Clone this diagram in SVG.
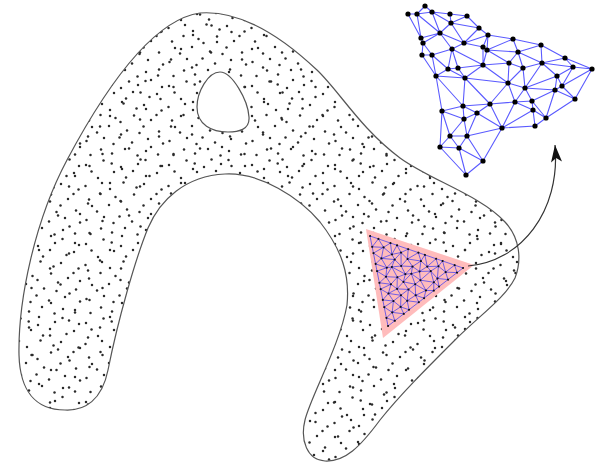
<svg xmlns="http://www.w3.org/2000/svg" width="601" height="467" viewBox="0 0 601 467">
<style>
.outline{fill:none;stroke:#555;stroke-width:1.2}
.pd{fill:#2a2a2a}
.zm{fill:none;stroke:#5a5aff;stroke-width:1.1}
.zn{fill:#000}
.tm{fill:none;stroke:#3636f5;stroke-width:.7;vector-effect:non-scaling-stroke}
.tn{fill:none;stroke:#111;stroke-width:2;stroke-linecap:round;vector-effect:non-scaling-stroke}
.arrow{fill:none;stroke:#333;stroke-width:1.2}
</style>
<defs>
<pattern id="pA" patternUnits="userSpaceOnUse" width="83" height="79">
<g class="pd">
<circle cx="3" cy="7" r="1.25"/><circle cx="20.5" cy="2.5" r="1.25"/><circle cx="28.7" cy="5.5" r="1.25"/><circle cx="38" cy="9" r="1.25"/><circle cx="55" cy="6" r="1.25"/><circle cx="62.5" cy="2" r="1.25"/><circle cx="79" cy="8" r="1.25"/>
<circle cx="8.5" cy="13.5" r="1.25"/><circle cx="15" cy="20" r="1.25"/><circle cx="31" cy="14" r="1.25"/><circle cx="43" cy="19.5" r="1.25"/><circle cx="50" cy="13" r="1.25"/><circle cx="66.5" cy="18" r="1.25"/><circle cx="74" cy="15" r="1.25"/>
<circle cx="2.5" cy="28" r="1.25"/><circle cx="19" cy="25" r="1.25"/><circle cx="27" cy="31" r="1.25"/><circle cx="40.5" cy="24.5" r="1.25"/><circle cx="53.5" cy="29.5" r="1.25"/><circle cx="61" cy="26" r="1.25"/><circle cx="78.5" cy="31.5" r="1.25"/>
<circle cx="6" cy="41.5" r="1.25"/><circle cx="17.5" cy="36" r="1.25"/><circle cx="32.5" cy="39" r="1.25"/><circle cx="37.5" cy="43" r="1.25"/><circle cx="51" cy="36.5" r="1.25"/><circle cx="68" cy="41" r="1.25"/><circle cx="73.5" cy="36" r="1.25"/>
<circle cx="9" cy="48" r="1.25"/><circle cx="14" cy="53.5" r="1.25"/><circle cx="26" cy="47" r="1.25"/><circle cx="44" cy="51.5" r="1.25"/><circle cx="56.5" cy="54" r="1.25"/><circle cx="60.5" cy="47.5" r="1.25"/><circle cx="76" cy="52.5" r="1.25"/>
<circle cx="3.5" cy="62" r="1.25"/><circle cx="21" cy="59" r="1.25"/><circle cx="30.5" cy="65" r="1.25"/><circle cx="36.5" cy="58.5" r="1.25"/><circle cx="49" cy="63.5" r="1.25"/><circle cx="65" cy="60" r="1.25"/><circle cx="80" cy="64.5" r="1.25"/>
<circle cx="7.5" cy="76" r="1.25"/><circle cx="18" cy="70.5" r="1.25"/><circle cx="29" cy="74.5" r="1.25"/><circle cx="42" cy="70" r="1.25"/><circle cx="54.5" cy="76.5" r="1.25"/><circle cx="63" cy="72" r="1.25"/><circle cx="75" cy="75.5" r="1.25"/>
</g>
</pattern>
<pattern id="pB" patternUnits="userSpaceOnUse" x="13" y="29" width="71" height="67">
<g class="pd">
<circle cx="5.5" cy="3" r="1.25"/><circle cx="38" cy="6" r="1.25"/><circle cx="26" cy="20" r="1.25"/><circle cx="62" cy="13" r="1.25"/><circle cx="16" cy="30.5" r="1.25"/><circle cx="56" cy="23.5" r="1.25"/>
<circle cx="4" cy="40.5" r="1.25"/><circle cx="37" cy="38.5" r="1.25"/><circle cx="45" cy="52.5" r="1.25"/><circle cx="67" cy="51" r="1.25"/><circle cx="18.5" cy="58" r="1.25"/><circle cx="56.5" cy="63.5" r="1.25"/>
</g>
</pattern>
<path id="blobShape" d="M200 13C240 10 280 35 317 70C340 92 360 128 400 158C430 180 480 195 505 222C520 238 522 260 515 278C505 298 480 315 455 340C425 370 400 395 380 420C360 447 345 462 325 461C307 460 300 440 305 420C310 398 340 345 347 305C350 275 342 250 320 222C300 198 260 172 225 174C185 176 160 200 148 228C135 260 118 320 108 370C102 400 85 411 65 410C35 410 20 390 19 355C18 300 35 220 67 160C100 98 150 20 200 13Z M220 72C232 72 248 100 249 117C250 130 238 132 228 132C212 132 197 125 197 107C197 92 208 72 220 72Z"/>
<marker id="ah" viewBox="-18 -7 20 14" refX="0" refY="0" markerWidth="20" markerHeight="14" markerUnits="userSpaceOnUse" orient="auto">
<path d="M0 0L-17 -5.5L-13 0L-17 5.5Z" fill="#111"/>
</marker>
</defs>

<g id="domain">
<use href="#blobShape" fill="url(#pA)" fill-rule="evenodd"/>
<use href="#blobShape" fill="url(#pB)" fill-rule="evenodd"/>
<use href="#blobShape" class="outline"/>
</g>

<g id="patch">
<path d="M366 229L474 265L383 338Z" fill="#ffbcbc"/>
<g transform="matrix(9.3 3.2 1.8 9 370 236)">
<path class="tm" d="M0 0L.9 0L2.2 0L2.9 0L4.1 0L5.2 0L5.9 0L7.1 0L7.8 0L9.1 0L10 0M0 1.2L1.3 .8L2.1 1.3L3.2 .7L3.8 1.2L5.3 .9L5.9 1.3L7.2 .8L7.9 1.2L9.2 .8M0 1.9L.8 2.2L2.3 1.8L2.9 2.3L4.2 1.9L4.9 2.2L6.2 1.7L6.8 2.3L8 2M0 3.1L1.2 3.1L1.8 2.8L3.2 3.1L3.9 2.8L4.8 3.2L6.3 2.9L6.8 3.2M0 3.9L.9 4.2L2.2 3.8L2.8 4.1L4.1 3.9L5.2 4.2L6.1 3.9M0 5.2L1.3 4.9L1.9 5.2L3.2 4.8L3.9 5.2L4.8 5.2M0 5.9L.8 6.1L2.2 5.8L2.8 6.2L4.1 5.9M0 7.1L1.2 6.8L1.9 7.2L2.8 7.2M0 7.9L.8 8.2L2.1 7.9M0 9.1L.9 9.1
M0 0L0 10M.9 0L1.3 .8L.8 2.2L1.2 3.1L.9 4.2L1.3 4.9L.8 6.1L1.2 6.8L.8 8.2L.9 9.1M2.2 0L2.1 1.3L2.3 1.8L1.8 2.8L2.2 3.8L1.9 5.2L2.2 5.8L1.9 7.2L2.1 7.9M2.9 0L3.2 .7L2.9 2.3L3.2 3.1L2.8 4.1L3.2 4.8L2.8 6.2L2.8 7.2M4.1 0L3.8 1.2L4.2 1.9L3.9 2.8L4.1 3.9L3.9 5.2L4.1 5.9M5.2 0L5.3 .9L4.9 2.2L4.8 3.2L5.2 4.2L4.8 5.2M5.9 0L5.9 1.3L6.2 1.7L6.3 2.9L6.1 3.9M7.1 0L7.2 .8L6.8 2.3L6.8 3.2M7.8 0L7.9 1.2L8 2M9.1 0L9.2 .8
M.9 0L0 1.2M2.2 0L1.3 .8L0 1.9M2.9 0L2.1 1.3L.8 2.2L0 3.1M4.1 0L3.2 .7L2.3 1.8L1.2 3.1L0 3.9M5.2 0L3.8 1.2L2.9 2.3L1.8 2.8L.9 4.2L0 5.2M5.9 0L5.3 .9L4.2 1.9L3.2 3.1L2.2 3.8L1.3 4.9L0 5.9M7.1 0L5.9 1.3L4.9 2.2L3.9 2.8L2.8 4.1L1.9 5.2L.8 6.1L0 7.1M7.8 0L7.2 .8L6.2 1.7L4.8 3.2L4.1 3.9L3.2 4.8L2.2 5.8L1.2 6.8L0 7.9M9.1 0L7.9 1.2L6.8 2.3L6.3 2.9L5.2 4.2L3.9 5.2L2.8 6.2L1.9 7.2L.8 8.2L0 9.1M10 0L9.2 .8L8 2L6.8 3.2L6.1 3.9L4.8 5.2L4.1 5.9L2.8 7.2L2.1 7.9L.9 9.1L0 10"/>
<path class="tn" d="M0 0h.01M0 1.2h.01M0 1.9h.01M0 3.1h.01M0 3.9h.01M0 5.2h.01M0 5.9h.01M0 7.1h.01M0 7.9h.01M0 9.1h.01M0 10h.01M.9 0h.01M1.3 .8h.01M.8 2.2h.01M1.2 3.1h.01M.9 4.2h.01M1.3 4.9h.01M.8 6.1h.01M1.2 6.8h.01M.8 8.2h.01M.9 9.1h.01M2.2 0h.01M2.1 1.3h.01M2.3 1.8h.01M1.8 2.8h.01M2.2 3.8h.01M1.9 5.2h.01M2.2 5.8h.01M1.9 7.2h.01M2.1 7.9h.01M2.9 0h.01M3.2 .7h.01M2.9 2.3h.01M3.2 3.1h.01M2.8 4.1h.01M3.2 4.8h.01M2.8 6.2h.01M2.8 7.2h.01M4.1 0h.01M3.8 1.2h.01M4.2 1.9h.01M3.9 2.8h.01M4.1 3.9h.01M3.9 5.2h.01M4.1 5.9h.01M5.2 0h.01M5.3 .9h.01M4.9 2.2h.01M4.8 3.2h.01M5.2 4.2h.01M4.8 5.2h.01M5.9 0h.01M5.9 1.3h.01M6.2 1.7h.01M6.3 2.9h.01M6.1 3.9h.01M7.1 0h.01M7.2 .8h.01M6.8 2.3h.01M6.8 3.2h.01M7.8 0h.01M7.9 1.2h.01M8 2h.01M9.1 0h.01M9.2 .8h.01M10 0h.01"/>
</g>
</g>

<g id="zoomMesh">
<path class="zm" d="M408 14L417 14M417 14L425 6M425 6L432 12M408 14L421 38M417 14L421 38M417 14L432 12M417 14L440 33M432 12L440 33M432 12L450 14M432 12L451 23M450 14L451 23M450 14L467 16M467 16L451 23M467 16L479 28M451 23L479 28M451 23L440 33M451 23L464 43M479 28L464 43M479 28L488 35M488 35L464 43M488 35L483 47M488 35L487 50M488 35L513 39M440 33L421 38M440 33L423 43M440 33L452 49M440 33L464 43M421 38L423 43M423 43L422 55M423 43L432 55M452 49L432 55M464 43L452 49M464 43L483 47M452 49L483 65M483 47L483 65M483 47L487 50M487 50L483 65M452 49L448 69M452 49L458 68M432 55L448 69M422 55L432 55M422 55L436 76M432 55L436 76M448 69L436 76M448 69L458 68M458 68L483 65M448 69L465 78M458 68L465 78M483 65L465 78M436 76L465 78M436 76L442 111M436 76L463 106M465 78L463 106M465 78L490 104M465 78L508 83M483 65L508 83M483 65L509 63M487 50L509 63M487 50L518 52M487 50L513 39M513 39L518 52M513 39L541 45M541 45L518 52M541 45L565 58M541 45L542 63M518 52L542 63M518 52L509 63M518 52L523 68M509 63L523 68M509 63L508 83M523 68L508 83M523 68L525 88M542 63L523 68M565 58L542 63M565 58L573 67M565 58L592 69M573 67L592 69M542 63L573 67M542 63L557 76M573 67L557 76M573 67L562 86M592 69L562 86M592 69L575 99M557 76L562 86M562 86L575 99M562 86L555 90M557 76L555 90M555 90L575 99M542 63L525 88M557 76L525 88M525 88L555 90M508 83L525 88M508 83L490 104M508 83L515 102M525 88L515 102M525 88L532 101M555 90L532 101M515 102L532 101M532 101L533 110M515 102L533 110M555 90L546 118M575 99L546 118M532 101L546 118M533 110L546 118M533 110L535 126M535 126L546 118M533 110L502 128M502 128L535 126M490 104L515 102M515 102L502 128M490 104L502 128M490 104L477 113M477 113L502 128M463 106L490 104M463 106L477 113M442 111L463 106M442 111L464 119M463 106L464 119M477 113L464 119M477 113L467 136M464 119L467 136M464 119L450 136M442 111L450 136M442 111L440 147M450 136L440 147M450 136L467 136M450 136L459 148M467 136L459 148M467 136L483 161M502 128L467 136M502 128L483 161M459 148L483 161M440 147L459 148M440 147L466 175M459 148L466 175M483 161L466 175"/>
<g class="zn">
<circle cx="425" cy="6" r="2.6"/><circle cx="408" cy="14" r="2.6"/><circle cx="417" cy="14" r="2.6"/><circle cx="432" cy="12" r="2.6"/><circle cx="450" cy="14" r="2.6"/><circle cx="467" cy="16" r="2.6"/><circle cx="451" cy="23" r="2.6"/><circle cx="440" cy="33" r="2.6"/><circle cx="479" cy="28" r="2.6"/><circle cx="488" cy="35" r="2.6"/>
<circle cx="421" cy="38" r="2.6"/><circle cx="423" cy="43" r="2.6"/><circle cx="464" cy="43" r="2.6"/><circle cx="452" cy="49" r="2.6"/><circle cx="483" cy="47" r="2.6"/><circle cx="487" cy="50" r="2.6"/><circle cx="513" cy="39" r="2.6"/><circle cx="541" cy="45" r="2.6"/><circle cx="518" cy="52" r="2.6"/><circle cx="422" cy="55" r="2.6"/>
<circle cx="432" cy="55" r="2.6"/><circle cx="565" cy="58" r="2.6"/><circle cx="483" cy="65" r="2.6"/><circle cx="509" cy="63" r="2.6"/><circle cx="542" cy="63" r="2.6"/><circle cx="448" cy="69" r="2.6"/><circle cx="458" cy="68" r="2.6"/><circle cx="523" cy="68" r="2.6"/><circle cx="573" cy="67" r="2.6"/><circle cx="592" cy="69" r="2.6"/>
<circle cx="436" cy="76" r="2.6"/><circle cx="465" cy="78" r="2.6"/><circle cx="508" cy="83" r="2.6"/><circle cx="557" cy="76" r="2.6"/><circle cx="525" cy="88" r="2.6"/><circle cx="562" cy="86" r="2.6"/><circle cx="555" cy="90" r="2.6"/><circle cx="575" cy="99" r="2.6"/><circle cx="442" cy="111" r="2.6"/><circle cx="463" cy="106" r="2.6"/>
<circle cx="490" cy="104" r="2.6"/><circle cx="515" cy="102" r="2.6"/><circle cx="532" cy="101" r="2.6"/><circle cx="477" cy="113" r="2.6"/><circle cx="533" cy="110" r="2.6"/><circle cx="464" cy="119" r="2.6"/><circle cx="502" cy="128" r="2.6"/><circle cx="535" cy="126" r="2.6"/><circle cx="546" cy="118" r="2.6"/><circle cx="450" cy="136" r="2.6"/>
<circle cx="467" cy="136" r="2.6"/><circle cx="440" cy="147" r="2.6"/><circle cx="459" cy="148" r="2.6"/><circle cx="483" cy="161" r="2.6"/><circle cx="466" cy="175" r="2.6"/>
</g>
</g>

<g id="connectors">
<path class="arrow" d="M468 266C520 262 561 212 555 145" marker-end="url(#ah)"/>
</g>
</svg>
